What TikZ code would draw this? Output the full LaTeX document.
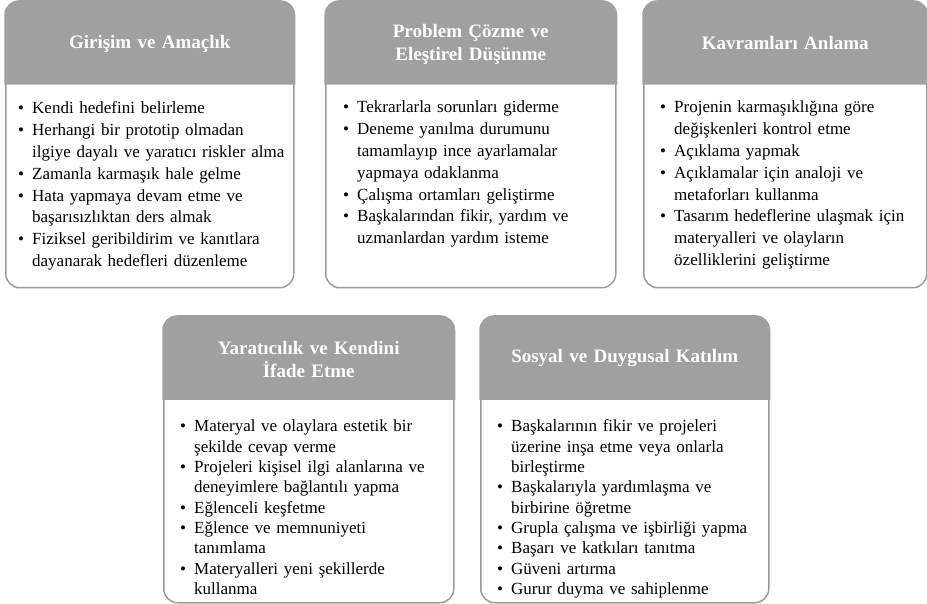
\documentclass[tikz,border=0pt]{standalone}
\usepackage{fontspec}
\setmainfont{Liberation Serif}
\usetikzlibrary{positioning}

\definecolor{headgray}{RGB}{160,160,160}
\definecolor{framegray}{RGB}{155,155,155}

% first line of a bullet, and a line that goes on under its text
\newcommand{\itm}[1]{\par\noindent\strut\makebox[14pt][l]{\textbullet}#1}
\newcommand{\cnt}[1]{\par\noindent\strut\hspace*{14pt}#1}

\begin{document}
\begin{tikzpicture}
[   x=1pt, y=1pt,
    frame/.style={draw=framegray, line width=1.5pt, rounded corners=14pt, minimum height=286pt, inner sep=0pt, anchor=north west},
    head/.style={inner sep=0pt, text=white, font=\fontsize{19}{23}\selectfont\bfseries, align=center, text width=275pt},
    items/.style={anchor=north west, inner sep=0pt, align=left, text width=270pt, font=\fontsize{17}{21.8}\selectfont},
    itemslow/.style={items, font=\fontsize{17}{20.4}\selectfont},
]
    \useasboundingbox (0,0) rectangle (927,-604);

    % frames of the five cards, with the gray band on top
    \foreach \n/\x/\y/\w in {gir/5/1/288, pro/325/1/290, kav/643/1/283, yar/163/316/290, sos/480/316/288}
    {
        \node[frame, minimum width=\w pt] (f-\n) at (\x,-\y) {};
        \filldraw[headgray, line width=1.5pt] ([yshift=-83pt]f-\n.north west) [rounded corners=14pt] -- (f-\n.north west)
            -- (f-\n.north east) -- ([yshift=-40pt]f-\n.north east) [sharp corners] -- ([yshift=-83pt]f-\n.north east) -- cycle;
    }

    % headings
    \node[head] (h-gir) at ([yshift=-42.5pt]f-gir.north) {Girişim ve Amaçlık};
    \node[head] (h-pro) at ([yshift=-43.5pt]f-pro.north) {Problem Çözme ve\\Eleştirel Düşünme};
    \node[head] (h-kav) at ([yshift=-42.5pt]f-kav.north) {Kavramları Anlama};
    \node[head] (h-yar) at ([yshift=-43.5pt]f-yar.north) {Yaratıcılık ve Kendini\\İfade Etme};
    \node[head] (h-sos) at ([yshift=-42.5pt]f-sos.north) {Sosyal ve Duygusal Katılım};

    % bullet lists
    \node[items] (l-gir) at ([xshift=13pt,yshift=-91pt]f-gir.north west) {%
        \itm{Kendi hedefini belirleme}
        \itm{Herhangi bir prototip olmadan}
        \cnt{ilgiye dayalı ve yaratıcı riskler alma}
        \itm{Zamanla karmaşık hale gelme}
        \itm{Hata yapmaya devam etme ve}
        \cnt{başarısızlıktan ders almak}
        \itm{Fiziksel geribildirim ve kanıtlara}
        \cnt{dayanarak hedefleri düzenleme}};
    \node[items] (l-pro) at ([xshift=18pt,yshift=-90pt]f-pro.north west) {%
        \itm{Tekrarlarla sorunları giderme}
        \itm{Deneme yanılma durumunu}
        \cnt{tamamlayıp ince ayarlamalar}
        \cnt{yapmaya odaklanma}
        \itm{Çalışma ortamları geliştirme}
        \itm{Başkalarından fikir, yardım ve}
        \cnt{uzmanlardan yardım isteme}};
    \node[items] (l-kav) at ([xshift=17pt,yshift=-90pt]f-kav.north west) {%
        \itm{Projenin karmaşıklığına göre}
        \cnt{değişkenleri kontrol etme}
        \itm{Açıklama yapmak}
        \itm{Açıklamalar için analoji ve}
        \cnt{metaforları kullanma}
        \itm{Tasarım hedeflerine ulaşmak için}
        \cnt{materyalleri ve olayların}
        \cnt{özelliklerini geliştirme}};
    \node[itemslow] (l-yar) at ([xshift=17pt,yshift=-95pt]f-yar.north west) {%
        \itm{Materyal ve olaylara estetik bir}
        \cnt{şekilde cevap verme}
        \itm{Projeleri kişisel ilgi alanlarına ve}
        \cnt{deneyimlere bağlantılı yapma}
        \itm{Eğlenceli keşfetme}
        \itm{Eğlence ve memnuniyeti}
        \cnt{tanımlama}
        \itm{Materyalleri yeni şekillerde}
        \cnt{kullanma}};
    \node[itemslow] (l-sos) at ([xshift=17pt,yshift=-95pt]f-sos.north west) {%
        \itm{Başkalarının fikir ve projeleri}
        \cnt{üzerine inşa etme veya onlarla}
        \cnt{birleştirme}
        \itm{Başkalarıyla yardımlaşma ve}
        \cnt{birbirine öğretme}
        \itm{Grupla çalışma ve işbirliği yapma}
        \itm{Başarı ve katkıları tanıtma}
        \itm{Güveni artırma}
        \itm{Gurur duyma ve sahiplenme}};
\end{tikzpicture}
\end{document}
